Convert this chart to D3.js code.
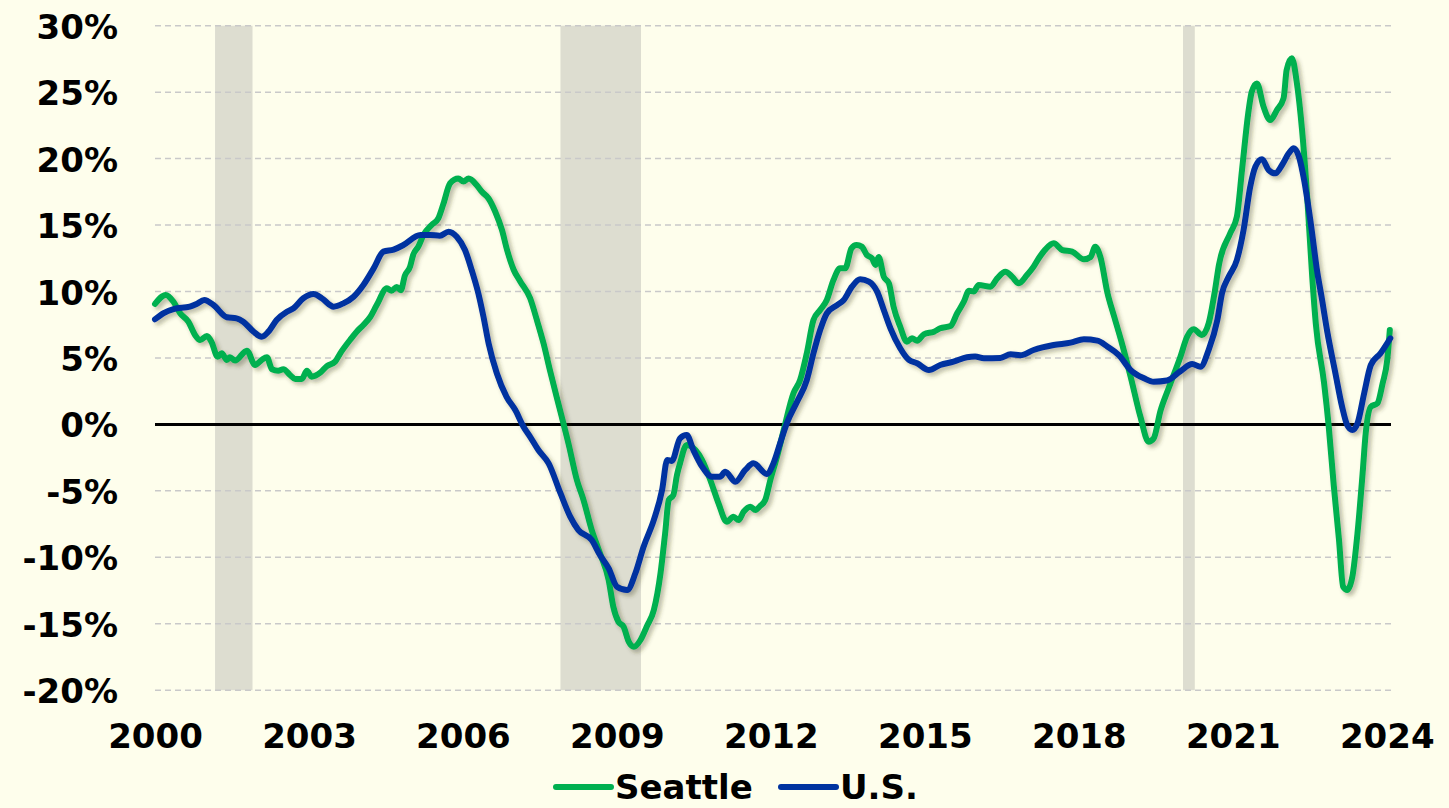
<!DOCTYPE html>
<html>
<head>
<meta charset="utf-8">
<script src="https://cdn.jsdelivr.net/npm/d3@7"></script>
<style>
  html, body { margin: 0; padding: 0; background: #FEFEEC; }
  svg { display: block; }
  .labelText { font-family: 'DejaVu Sans', Verdana, sans-serif; font-weight: bold; font-size: 34px; fill: #000; }
</style>
</head>
<body>
<svg id="chart"></svg>
<script>
// Seattle vs U.S. home price growth, year over year
const seattleYears = [2000.00, 2000.21, 2000.36, 2000.49, 2000.65, 2000.78, 2000.88, 2001.01, 2001.10, 2001.22, 2001.30, 2001.40, 2001.46, 2001.56, 2001.79, 2001.95, 2002.08, 2002.18, 2002.28, 2002.40, 2002.50, 2002.63, 2002.73, 2002.86, 2002.96, 2003.05, 2003.22, 2003.35, 2003.51, 2003.61, 2003.80, 2003.93, 2004.06, 2004.19, 2004.32, 2004.52, 2004.61, 2004.71, 2004.79, 2004.87, 2004.97, 2005.03, 2005.13, 2005.23, 2005.39, 2005.52, 2005.62, 2005.75, 2005.91, 2006.01, 2006.11, 2006.27, 2006.37, 2006.50, 2006.63, 2006.76, 2006.86, 2006.99, 2007.12, 2007.31, 2007.44, 2007.57, 2007.70, 2007.83, 2007.93, 2008.06, 2008.22, 2008.35, 2008.51, 2008.67, 2008.84, 2008.93, 2009.03, 2009.13, 2009.23, 2009.33, 2009.46, 2009.58, 2009.72, 2009.85, 2009.94, 2010.01, 2010.10, 2010.17, 2010.23, 2010.36, 2010.53, 2010.66, 2010.82, 2010.98, 2011.14, 2011.27, 2011.37, 2011.47, 2011.60, 2011.70, 2011.79, 2011.89, 2011.99, 2012.12, 2012.25, 2012.44, 2012.57, 2012.70, 2012.83, 2012.96, 2013.09, 2013.22, 2013.35, 2013.45, 2013.57, 2013.67, 2013.77, 2013.87, 2013.97, 2014.04, 2014.10, 2014.20, 2014.30, 2014.39, 2014.52, 2014.65, 2014.75, 2014.85, 2014.98, 2015.18, 2015.30, 2015.50, 2015.63, 2015.76, 2015.86, 2015.95, 2016.05, 2016.28, 2016.41, 2016.57, 2016.70, 2016.83, 2016.99, 2017.12, 2017.22, 2017.35, 2017.51, 2017.68, 2017.87, 2018.10, 2018.23, 2018.32, 2018.42, 2018.56, 2018.69, 2018.84, 2019.01, 2019.20, 2019.36, 2019.46, 2019.59, 2019.75, 2019.98, 2020.11, 2020.24, 2020.40, 2020.53, 2020.65, 2020.73, 2020.95, 2021.08, 2021.18, 2021.31, 2021.37, 2021.47, 2021.60, 2021.73, 2021.86, 2021.99, 2022.05, 2022.15, 2022.25, 2022.35, 2022.45, 2022.55, 2022.62, 2022.78, 2022.87, 2022.97, 2023.07, 2023.15, 2023.23, 2023.33, 2023.43, 2023.53, 2023.59, 2023.69, 2023.82, 2023.92, 2024.01, 2024.06];
const seattleValues = [9.06, 9.74, 9.23, 8.36, 7.73, 6.73, 6.35, 6.65, 6.22, 5.09, 5.35, 4.85, 5.05, 4.80, 5.55, 4.47, 4.85, 5.05, 4.15, 4.04, 4.15, 3.72, 3.42, 3.42, 4.04, 3.59, 3.89, 4.39, 4.72, 5.35, 6.35, 6.98, 7.48, 8.06, 8.98, 10.24, 10.06, 10.34, 10.10, 11.20, 11.87, 12.75, 13.37, 14.25, 15.00, 15.50, 16.60, 18.14, 18.50, 18.27, 18.50, 18.00, 17.50, 17.00, 16.00, 14.63, 13.12, 11.62, 10.74, 9.49, 7.86, 6.10, 4.00, 2.00, 0.50, -1.50, -4.18, -5.69, -7.95, -9.70, -11.71, -13.72, -14.85, -15.22, -16.35, -16.73, -16.22, -15.22, -13.97, -11.20, -8.19, -5.69, -5.31, -3.81, -2.93, -1.55, -1.93, -2.68, -4.18, -5.94, -7.32, -6.94, -7.20, -6.57, -6.19, -6.44, -6.14, -5.69, -4.18, -2.43, -0.42, 2.34, 3.34, 5.35, 7.86, 8.61, 9.36, 10.87, 11.75, 11.75, 13.25, 13.50, 13.38, 12.75, 12.50, 12.00, 12.60, 11.11, 10.62, 8.86, 7.35, 6.22, 6.48, 6.30, 6.78, 6.98, 7.23, 7.40, 8.36, 9.23, 10.06, 10.00, 10.49, 10.36, 10.99, 11.49, 11.11, 10.62, 11.24, 11.87, 12.50, 13.17, 13.63, 13.12, 13.00, 12.42, 12.60, 13.37, 12.60, 9.86, 8.10, 6.10, 3.59, 0.58, -1.30, -1.05, 1.00, 2.72, 5.09, 6.60, 7.16, 6.73, 7.60, 10.00, 12.00, 14.38, 15.63, 19.14, 23.66, 25.03, 25.66, 23.90, 22.90, 23.66, 24.54, 26.67, 27.55, 25.66, 22.15, 17.13, 11.00, 7.50, 3.09, -0.17, -4.69, -8.70, -12.21, -12.46, -11.46, -8.19, -3.68, -0.67, 1.33, 1.59, 3.09, 4.85, 7.10];

const usYears = [2000.00, 2000.16, 2000.36, 2000.68, 2000.81, 2000.96, 2001.14, 2001.40, 2001.59, 2001.72, 2001.92, 2002.08, 2002.21, 2002.37, 2002.57, 2002.70, 2002.89, 2003.09, 2003.25, 2003.48, 2003.67, 2003.87, 2004.06, 2004.26, 2004.45, 2004.65, 2004.84, 2005.17, 2005.36, 2005.55, 2005.72, 2005.88, 2006.04, 2006.17, 2006.30, 2006.40, 2006.50, 2006.66, 2006.85, 2007.02, 2007.18, 2007.31, 2007.47, 2007.67, 2007.90, 2008.09, 2008.25, 2008.51, 2008.67, 2008.84, 2009.00, 2009.20, 2009.36, 2009.52, 2009.72, 2009.88, 2009.98, 2010.07, 2010.23, 2010.36, 2010.49, 2010.66, 2010.85, 2011.01, 2011.11, 2011.31, 2011.50, 2011.66, 2011.92, 2012.05, 2012.18, 2012.31, 2012.51, 2012.70, 2012.83, 2012.96, 2013.09, 2013.29, 2013.42, 2013.58, 2013.74, 2013.91, 2014.07, 2014.20, 2014.33, 2014.52, 2014.69, 2014.85, 2015.08, 2015.30, 2015.56, 2015.82, 2015.98, 2016.15, 2016.47, 2016.67, 2016.86, 2017.12, 2017.51, 2017.84, 2018.10, 2018.36, 2018.56, 2018.78, 2019.01, 2019.27, 2019.46, 2019.72, 2019.98, 2020.21, 2020.37, 2020.53, 2020.70, 2020.79, 2020.92, 2021.08, 2021.21, 2021.34, 2021.44, 2021.57, 2021.70, 2021.83, 2021.96, 2022.09, 2022.19, 2022.29, 2022.39, 2022.52, 2022.65, 2022.73, 2022.84, 2023.00, 2023.13, 2023.23, 2023.33, 2023.43, 2023.56, 2023.69, 2023.88, 2024.07];
const usValues = [7.91, 8.36, 8.68, 8.86, 9.06, 9.36, 8.98, 8.06, 7.98, 7.73, 6.98, 6.60, 6.98, 7.86, 8.48, 8.74, 9.49, 9.81, 9.49, 8.86, 9.11, 9.61, 10.49, 11.74, 13.00, 13.15, 13.50, 14.25, 14.25, 14.20, 14.50, 14.12, 13.12, 11.62, 9.86, 8.10, 6.10, 3.85, 2.08, 1.08, -0.17, -0.93, -1.93, -2.93, -5.18, -6.94, -7.95, -8.70, -9.83, -10.83, -12.21, -12.46, -11.20, -9.20, -7.19, -4.94, -2.68, -2.75, -1.05, -0.80, -1.93, -3.18, -3.93, -3.93, -3.56, -4.31, -3.43, -2.93, -3.73, -2.93, -1.42, 0.08, 1.70, 3.34, 5.35, 7.10, 8.36, 8.98, 9.36, 10.36, 10.92, 10.74, 9.99, 8.61, 7.23, 5.73, 4.85, 4.60, 4.09, 4.47, 4.72, 5.05, 5.10, 4.97, 5.00, 5.27, 5.20, 5.60, 5.97, 6.15, 6.40, 6.30, 5.85, 5.22, 4.09, 3.47, 3.21, 3.30, 4.00, 4.54, 4.34, 5.60, 7.86, 9.86, 11.11, 12.37, 14.63, 17.88, 19.39, 19.95, 19.14, 18.89, 19.52, 20.40, 20.78, 20.14, 18.39, 15.13, 11.37, 9.60, 7.00, 3.84, 1.33, -0.05, -0.42, 0.08, 2.34, 4.47, 5.35, 6.48];

// recessions (start, end)
const recessionStarts = [2001.17, 2007.90, 2020.03];
const recessionEnds = [2001.90, 2009.47, 2020.26];

const yTicks = [30, 25, 20, 15, 10, 5, 0, -5, -10, -15, -20];
const xTicks = [2000, 2003, 2006, 2009, 2012, 2015, 2018, 2021, 2024];

const seriesNames = ['Seattle', 'U.S.'];
const seriesColors = ['#00B050', '#0033A0'];

const width = 1449;
const height = 808;
const plotLeft = 155;
const plotRight = 1391;
const plotTop = 25.7;
const plotBottom = 690.2;

const seattle = seattleYears.map((y, i) => ({ year: y, value: seattleValues[i] }));
const us = usYears.map((y, i) => ({ year: y, value: usValues[i] }));

const xscale = d3.scaleLinear()
  .domain([2000, 2024.083])
  .range([plotLeft, plotRight]);

const yscale = d3.scaleLinear()
  .domain([-20, 30])
  .range([plotBottom, plotTop]);

const svg = d3.select('#chart')
  .attr('width', width)
  .attr('height', height);

svg.append('rect')
  .attr('width', width)
  .attr('height', height)
  .attr('fill', '#FEFEEC');

const defs = svg.append('defs');
const shadow = defs.append('filter')
  .attr('id', 'shadow')
  .attr('x', '-5%').attr('y', '-5%')
  .attr('width', '110%').attr('height', '110%');
shadow.append('feDropShadow')
  .attr('dx', 3)
  .attr('dy', 3)
  .attr('stdDeviation', 2)
  .attr('flood-color', '#3a3a20')
  .attr('flood-opacity', 0.35);

// recession shading
svg.append('g')
  .selectAll('rect')
  .data(recessionStarts)
  .enter()
  .append('rect')
  .attr('x', (d) => xscale(d))
  .attr('width', (d, i) => xscale(recessionEnds[i]) - xscale(d))
  .attr('y', yscale(30))
  .attr('height', yscale(-20) - yscale(30))
  .attr('fill', '#DDDDD0');

// gridlines
svg.append('g')
  .selectAll('line')
  .data(yTicks.filter((d) => d !== 0))
  .enter()
  .append('line')
  .attr('x1', plotLeft)
  .attr('x2', plotRight)
  .attr('y1', (d) => yscale(d))
  .attr('y2', (d) => yscale(d))
  .attr('stroke', '#C9C9C9')
  .attr('stroke-width', 1.5)
  .attr('stroke-dasharray', '6,4');

// zero line
svg.append('line')
  .attr('x1', plotLeft)
  .attr('x2', plotRight)
  .attr('y1', yscale(0))
  .attr('y2', yscale(0))
  .attr('stroke', '#000')
  .attr('stroke-width', 3);

// y labels
const leftAxis = d3.axisLeft(yscale)
  .tickValues(yTicks)
  .tickSize(0)
  .tickPadding(0)
  .tickFormat((d) => `${d}%`);

const yAxisG = svg.append('g')
  .attr('transform', 'translate(118, 0)')
  .call(leftAxis)
  .attr('font-family', null)
  .attr('font-size', null);
yAxisG.select('.domain').remove();
yAxisG.selectAll('text')
  .attr('class', 'labelText')
  .attr('dy', '0.37em');

// x labels
const bottomAxis = d3.axisBottom(xscale)
  .tickValues(xTicks)
  .tickSize(0)
  .tickPadding(0)
  .tickFormat((d) => `${d}`);

const xAxisG = svg.append('g')
  .attr('transform', 'translate(0, 748)')
  .call(bottomAxis)
  .attr('font-family', null)
  .attr('font-size', null);
xAxisG.select('.domain').remove();
xAxisG.selectAll('text')
  .attr('class', 'labelText')
  .attr('dy', 0);

// lines
const line = d3.line()
  .x((d) => xscale(d.year))
  .y((d) => yscale(d.value))
  .curve(d3.curveMonotoneX);

const lines = svg.append('g')
  .attr('filter', 'url(#shadow)');

[seattle, us].forEach((series, i) => {
  lines.append('path')
    .datum(series)
    .attr('fill', 'none')
    .attr('stroke', seriesColors[i])
    .attr('stroke-width', 6)
    .attr('stroke-linejoin', 'round')
    .attr('stroke-linecap', 'round')
    .attr('d', line);
});

// legend
const legendX = [556, 781];
const legend = svg.append('g');

legend.selectAll('line')
  .data(seriesNames)
  .enter()
  .append('line')
  .attr('x1', (d, i) => legendX[i])
  .attr('x2', (d, i) => legendX[i] + 55)
  .attr('y1', 787)
  .attr('y2', 787)
  .attr('stroke', (d, i) => seriesColors[i])
  .attr('stroke-width', 6)
  .attr('stroke-linecap', 'round');

legend.selectAll('text')
  .data(seriesNames)
  .enter()
  .append('text')
  .attr('class', 'labelText')
  .attr('x', (d, i) => legendX[i] + 59)
  .attr('y', 799)
  .text((d) => d);
</script>
</body>
</html>
